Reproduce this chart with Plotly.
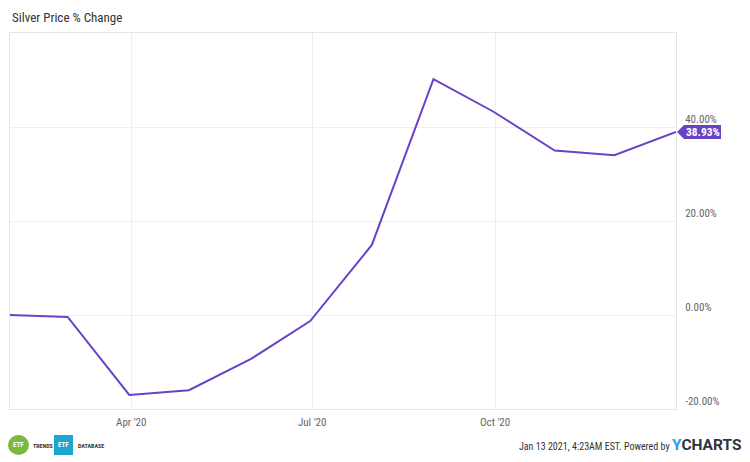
import plotly.graph_objects as go

dates = ["2020-01-31", "2020-02-29", "2020-03-31", "2020-04-30", "2020-05-31", "2020-06-30",
         "2020-07-31", "2020-08-31", "2020-09-30", "2020-10-31", "2020-11-30", "2020-12-31"]
pct_change = [0.0, -0.4, -17.0, -16.0, -9.4, -1.3, 14.9, 50.2, 43.3, 35.0, 34.0, 38.93]

x_tick_vals = ["2020-04-01", "2020-07-01", "2020-10-01"]
x_tick_text = ["Apr '20", "Jul '20", "Oct '20"]
y_tick_vals = [-20, 0, 20, 40]
y_tick_text = ["%.2f%%" % v for v in y_tick_vals]
y_range = [-20, 60]

title_text = "Silver Price % Change"
footer_text = "Jan 13 2021, 4:23AM EST. Powered by"

FONT = "Roboto Condensed, Liberation Sans Narrow, DejaVu Sans Condensed, Roboto"

# page is offset by the body margin (8px); work in page pixels and convert
OFF = 8
PAGE_W, PAGE_H = 750, 462
W, H = PAGE_W - OFF, PAGE_H - OFF
PL, PR, PT, PB = 10, 676, 33, 409  # plot area in page pixels
L, T = PL - OFF, PT - OFF
R, B = W - (PR - OFF), H - (PB - OFF)
PW, PH = PR - PL, PB - PT

def px(x):
    return (x - PL) / PW

def py(y):
    return (PB - y) / PH

line_color = "#6a42c6"
grid = "#efefef"

fig = go.Figure()
fig.add_trace(go.Scatter(x=dates, y=pct_change, mode="lines",
                         line=dict(color=line_color, width=2), hoverinfo="skip"))

# end value flag position derived from last value and y scale
last_py = (pct_change[-1] - y_range[0]) / (y_range[1] - y_range[0])
dxp = 1.0 / PW
dyp = 1.0 / PH
tip_x = 1.0 + 1 * dxp
flag_path = "M {a} {y0} L {b} {yt} L {c} {yt} L {c} {yb} L {b} {yb} Z".format(
    a=tip_x, b=1.0 + 8 * dxp, c=1.0 + 45 * dxp,
    y0=last_py, yt=last_py + 7 * dyp, yb=last_py - 7 * dyp)

shapes = []
shapes.append(dict(type="path", xref="paper", yref="paper", path=flag_path,
                   fillcolor=line_color, line=dict(width=0)))
# ETF Trends logo circle
shapes.append(dict(type="circle", xref="paper", yref="paper", x0=px(8), x1=px(29), y0=py(455), y1=py(435),
                   fillcolor="#79b93f", line=dict(width=0)))
# ETF Database square
shapes.append(dict(type="rect", xref="paper", yref="paper", x0=px(54), x1=px(73), y0=py(455), y1=py(435),
                   fillcolor="#1ba6cf", line=dict(width=0)))
# card border (right/bottom visible part)
shapes.append(dict(type="line", xref="paper", yref="paper", x0=px(749), x1=px(749), y0=py(8), y1=py(461),
                   line=dict(color="#e3e3e3", width=1)))

annotations = [
    dict(text=title_text, xref="paper", yref="paper", x=px(10), y=py(18), xanchor="left", yanchor="middle",
         showarrow=False, font=dict(family=FONT, size=13, color="#333333")),
    dict(text="<b>%.2f%%</b>" % pct_change[-1], xref="paper", yref="paper", x=1.0 + 26.5 * dxp, y=last_py,
         xanchor="center", yanchor="middle", showarrow=False, font=dict(family=FONT, size=11.5, color="white")),
    dict(text="<b>ETF</b>", xref="paper", yref="paper", x=px(18.5), y=py(445), showarrow=False,
         xanchor="center", yanchor="middle", font=dict(family=FONT, size=7, color="white")),
    dict(text="<b>TRENDS</b>", xref="paper", yref="paper", x=px(31), y=py(445), xanchor="left", yanchor="middle",
         showarrow=False, font=dict(family=FONT, size=6, color="#333333")),
    dict(text="<b>ETF</b>", xref="paper", yref="paper", x=px(63.5), y=py(445), showarrow=False,
         xanchor="center", yanchor="middle", font=dict(family=FONT, size=7, color="white")),
    dict(text="<b>DATABASE</b>", xref="paper", yref="paper", x=px(76), y=py(445), xanchor="left", yanchor="middle",
         showarrow=False, font=dict(family=FONT, size=6, color="#333333")),
    dict(text=footer_text, xref="paper", yref="paper", x=px(672), y=py(446), xanchor="right", yanchor="middle",
         showarrow=False, font=dict(family=FONT, size=10, color="#333333")),
    dict(text="<b><span style='color:#1ba6e6'>Y</span>CHARTS</b>", xref="paper", yref="paper",
         x=px(670), y=py(445), xanchor="left", yanchor="middle",
         showarrow=False, font=dict(family="Roboto", size=15.5, color="#2c3440")),
]

fig.update_layout(
    width=W, height=H,
    margin=dict(l=L, r=R, t=T, b=B, pad=0),
    paper_bgcolor="white", plot_bgcolor="white",
    showlegend=False,
    font=dict(family=FONT, size=11, color="#666666"),
    shapes=shapes, annotations=annotations,
    xaxis=dict(range=["2020-01-31", "2020-12-31"], tickvals=x_tick_vals, ticktext=x_tick_text,
               showgrid=True, gridcolor=grid, gridwidth=1, zeroline=False,
               showline=True, linecolor="#e6e6e6", mirror=True, ticks="",
               ticklabelstandoff=3,
               tickfont=dict(family=FONT, size=11, color="#666666")),
    yaxis=dict(range=y_range, side="right", tickvals=y_tick_vals, ticktext=y_tick_text,
               showgrid=True, gridcolor=grid, gridwidth=1, zeroline=False,
               showline=True, linecolor="#e6e6e6", mirror=True, ticks="",
               ticklabelposition="outside top", ticklabelstandoff=6,
               tickfont=dict(family=FONT, size=11, color="#666666")),
)

fig.write_html("out.html")
